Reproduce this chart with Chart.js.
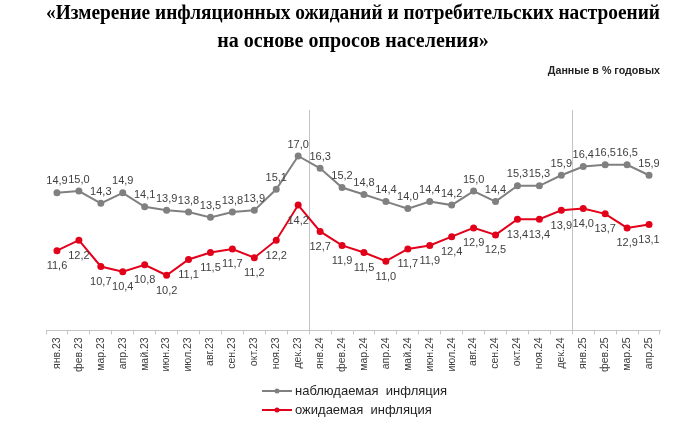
<!DOCTYPE html>
<html lang="ru">
<head>
    <meta charset="UTF-8">
    <title>Инфляционные ожидания</title>
    <script src="https://cdn.jsdelivr.net/npm/chart.js"></script>
    <style>
        body { margin: 0; background: #fff; }
        #wrap { width: 700px; height: 421px; }
    </style>
</head>
<body>
    <div id="wrap"><canvas id="inflChart"></canvas></div>
    <script>
        const months = ['янв.23', 'фев.23', 'мар.23', 'апр.23', 'май.23', 'июн.23', 'июл.23', 'авг.23', 'сен.23', 'окт.23', 'ноя.23', 'дек.23',
            'янв.24', 'фев.24', 'мар.24', 'апр.24', 'май.24', 'июн.24', 'июл.24', 'авг.24', 'сен.24', 'окт.24', 'ноя.24', 'дек.24',
            'янв.25', 'фев.25', 'мар.25', 'апр.25'];
        const observed = [14.9, 15.0, 14.3, 14.9, 14.1, 13.9, 13.8, 13.5, 13.8, 13.9, 15.1, 17.0,
            16.3, 15.2, 14.8, 14.4, 14.0, 14.4, 14.2, 15.0, 14.4, 15.3, 15.3, 15.9,
            16.4, 16.5, 16.5, 15.9];
        const expected = [11.6, 12.2, 10.7, 10.4, 10.8, 10.2, 11.1, 11.5, 11.7, 11.2, 12.2, 14.2,
            12.7, 11.9, 11.5, 11.0, 11.7, 11.9, 12.4, 12.9, 12.5, 13.4, 13.4, 13.9,
            14.0, 13.7, 12.9, 13.1];
        const seriesNames = ['наблюдаемая  инфляция', 'ожидаемая  инфляция'];
        const yearBreaks = [12, 24]; // вертикальные линии перед январём

        const GRAY = '#808080';
        const RED = '#e2001a';
        const TEXT = '#404040';

        // подписи значений: серые сверху, красные снизу
        const valueLabels = {
            id: 'valueLabels',
            afterDatasetsDraw(chart) {
                const ctx = chart.ctx;
                ctx.save();
                ctx.font = '11px "Liberation Sans", Arial, sans-serif';
                ctx.fillStyle = TEXT;
                ctx.textAlign = 'center';
                chart.data.datasets.forEach((ds, i) => {
                    const meta = chart.getDatasetMeta(i);
                    meta.data.forEach((pt, j) => {
                        const txt = ds.data[j].toFixed(1).replace('.', ',');
                        if (i === 0) {
                            ctx.textBaseline = 'bottom';
                            ctx.fillText(txt, pt.x, pt.y - 6);
                        } else {
                            ctx.textBaseline = 'top';
                            ctx.fillText(txt, pt.x, pt.y + 10);
                        }
                    });
                });
                ctx.restore();
            }
        };

        // легенда в две строки под осью
        const twoRowLegend = {
            id: 'twoRowLegend',
            afterDraw(chart) {
                const ctx = chart.ctx;
                ctx.save();
                ctx.font = '13px "Liberation Sans", Arial, sans-serif';
                ctx.textBaseline = 'middle';
                ctx.textAlign = 'left';
                const x0 = 262, rows = [391, 410];
                chart.data.datasets.forEach((ds, i) => {
                    const y = rows[i];
                    ctx.strokeStyle = ds.borderColor;
                    ctx.lineWidth = 2;
                    ctx.beginPath();
                    ctx.moveTo(x0, y);
                    ctx.lineTo(x0 + 30, y);
                    ctx.stroke();
                    ctx.fillStyle = ds.borderColor;
                    ctx.beginPath();
                    ctx.arc(x0 + 15, y, 2.5, 0, Math.PI * 2);
                    ctx.fill();
                    ctx.fillStyle = '#222';
                    ctx.fillText(ds.label, x0 + 33, y);
                });
                ctx.restore();
            }
        };

        new Chart(document.getElementById('inflChart'), {
            type: 'line',
            data: {
                labels: months,
                datasets: [{
                    label: seriesNames[0],
                    data: observed,
                    borderColor: GRAY,
                    backgroundColor: GRAY,
                    borderWidth: 2,
                    pointRadius: 2.5,
                    tension: 0
                }, {
                    label: seriesNames[1],
                    data: expected,
                    borderColor: RED,
                    backgroundColor: RED,
                    borderWidth: 2,
                    pointRadius: 2.5,
                    tension: 0
                }]
            },
            options: {
                responsive: true,
                maintainAspectRatio: false,
                animation: false,
                layout: { padding: { left: 46, right: 40, top: 0, bottom: 46 } },
                plugins: {
                    legend: { display: false },
                    tooltip: { enabled: false },
                    title: {
                        display: true,
                        text: ['«Измерение инфляционных ожиданий и потребительских настроений', 'на основе опросов населения»'],
                        font: { family: '"Liberation Serif", "Times New Roman", serif', size: 20, weight: 'bold', lineHeight: 1.4 },
                        color: '#000',
                        padding: { top: 0, bottom: 0 }
                    },
                    subtitle: {
                        display: true,
                        text: 'Данные в % годовых',
                        align: 'end',
                        font: { family: '"Liberation Sans", Arial, sans-serif', size: 10.7, weight: 'bold', lineHeight: 1.2 },
                        color: '#222',
                        padding: { top: 9, bottom: 32 }
                    }
                },
                scales: {
                    x: {
                        offset: true,
                        border: { display: true, color: '#c4c4c4', width: 1 },
                        grid: {
                            offset: true,
                            drawTicks: true,
                            tickLength: 4,
                            tickColor: '#c4c4c4',
                            color: c => yearBreaks.includes(c.index) ? '#c4c4c4' : 'rgba(0,0,0,0)'
                        },
                        ticks: {
                            minRotation: 90,
                            maxRotation: 90,
                            autoSkip: false,
                            padding: 3,
                            color: TEXT,
                            font: { family: '"Liberation Sans", Arial, sans-serif', size: 10.5 }
                        }
                    },
                    y: {
                        display: false,
                        min: 7.06,
                        max: 19.63
                    }
                }
            },
            plugins: [valueLabels, twoRowLegend]
        });
    </script>
</body>
</html>
